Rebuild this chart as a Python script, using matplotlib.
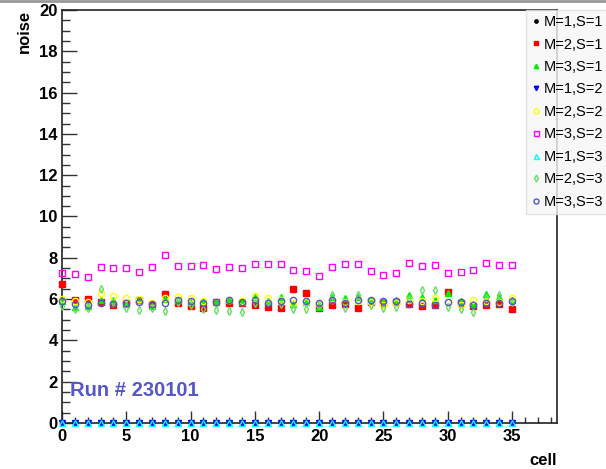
import numpy as np
import matplotlib.pyplot as plt
from matplotlib.ticker import MultipleLocator
from matplotlib.lines import Line2D

plt.rcParams["font.family"] = ["Liberation Sans", "DejaVu Sans"]
plt.rcParams["font.weight"] = "bold"

cells = np.arange(36)

# noise per cell, one array per (M, S) combination
noise_m1_s1 = np.zeros(36)
noise_m1_s2 = np.zeros(36)
noise_m1_s3 = np.zeros(36)

noise_m2_s1 = [6.72, 5.96, 5.99, 5.87, 5.71, 5.80, 5.96, 5.71, 6.23, 5.80, 5.68, 5.58,
               5.87, 5.80, 5.80, 5.71, 5.63, 5.58, 6.47, 6.31, 5.55, 5.71, 5.75, 5.58,
               5.87, 5.80, 5.87, 5.75, 5.68, 5.71, 6.36, 5.80, 5.68, 5.71, 5.75, 5.52]
noise_m3_s1 = [5.90, 5.60, 5.65, 5.95, 5.95, 5.75, 5.95, 5.65, 6.00, 5.95, 5.85, 5.93,
               5.85, 5.95, 5.85, 6.10, 5.90, 6.10, 5.75, 5.85, 5.60, 6.10, 6.05, 6.10,
               5.95, 5.90, 5.95, 6.20, 6.10, 5.95, 6.30, 5.90, 5.75, 6.25, 6.10, 5.95]
noise_m2_s2 = [6.00, 5.90, 5.85, 6.30, 6.15, 6.05, 6.00, 5.80, 6.05, 6.12, 6.07, 5.90,
               5.85, 5.95, 5.90, 6.15, 6.07, 5.95, 5.80, 5.85, 5.75, 5.95, 5.85, 5.90,
               5.85, 5.70, 5.80, 5.95, 5.90, 6.05, 5.85, 5.70, 5.95, 5.90, 5.85, 6.07]
noise_m3_s2 = [7.28, 7.20, 7.09, 7.55, 7.53, 7.53, 7.33, 7.55, 8.15, 7.62, 7.62, 7.65,
               7.47, 7.55, 7.50, 7.72, 7.72, 7.70, 7.41, 7.34, 7.12, 7.57, 7.70, 7.70,
               7.38, 7.17, 7.25, 7.73, 7.62, 7.67, 7.28, 7.30, 7.42, 7.73, 7.63, 7.65]
noise_m2_s3 = [5.65, 5.50, 5.55, 6.50, 5.85, 5.55, 5.45, 5.55, 5.42, 5.85, 5.70, 5.50,
               5.45, 5.42, 5.36, 5.80, 5.85, 5.75, 5.50, 5.50, 5.70, 6.20, 5.55, 6.20,
               5.70, 5.55, 5.60, 6.00, 6.45, 6.45, 5.60, 5.50, 5.38, 6.05, 6.20, 5.85]
noise_m3_s3 = [5.90, 5.75, 5.70, 5.80, 5.75, 5.80, 5.85, 5.75, 5.82, 5.96, 5.90, 5.80,
               5.86, 5.96, 5.85, 5.96, 5.80, 5.90, 5.94, 5.90, 5.80, 5.96, 5.80, 5.96,
               5.96, 5.92, 5.92, 5.75, 5.80, 5.71, 5.88, 5.85, 5.71, 5.80, 5.83, 5.90]

labels = ["M=1,S=1", "M=2,S=1", "M=3,S=1",
          "M=1,S=2", "M=2,S=2", "M=3,S=2",
          "M=1,S=3", "M=2,S=3", "M=3,S=3"]

# (marker, size, face, edge)
styles = [
    ("o", 3.0, "black", "black"),
    ("s", 4.0, "#ff0000", "#ff0000"),
    ("^", 4.0, "#00ee00", "#00ee00"),
    ("v", 4.0, "#0000ff", "#0000ff"),
    ("o", 4.5, "none", "#ffff00"),
    ("s", 4.5, "none", "#ff00ff"),
    ("^", 4.5, "none", "#00ffff"),
    ("d", 4.2, "none", "#66dd66"),
    ("o", 4.5, "none", "#5555cc"),
]

series = [noise_m1_s1, noise_m2_s1, noise_m3_s1,
          noise_m1_s2, noise_m2_s2, noise_m3_s2,
          noise_m1_s3, noise_m2_s3, noise_m3_s3]

fig = plt.figure(figsize=(6.06, 4.69), dpi=100)
ax = fig.add_axes([62 / 606, 1 - 423 / 469, 495 / 606, 413 / 469])

handles = []
for y, lab, (mk, ms, fc, ec) in zip(series, labels, styles):
    h, = ax.plot(cells, y, linestyle="none", marker=mk, markersize=ms,
                 markerfacecolor=fc, markeredgecolor=ec, markeredgewidth=1.0,
                 clip_on=False, zorder=3, label=lab)
    handles.append(h)

ax.set_xlim(0, 38.5)
ax.set_ylim(0, 20)
ax.xaxis.set_major_locator(MultipleLocator(5))
ax.xaxis.set_minor_locator(MultipleLocator(1))
ax.yaxis.set_major_locator(MultipleLocator(2))
ax.yaxis.set_minor_locator(MultipleLocator(0.5))
ax.tick_params(which="both", direction="in", top=False, right=False,
               labelsize=12, width=1.0, color="#333333")
ax.tick_params(axis="x", which="major", length=9, pad=4)
ax.tick_params(axis="x", which="minor", length=4.5)
ax.tick_params(axis="y", which="major", length=11, pad=3)
ax.tick_params(axis="y", which="minor", length=5.5)
for lbl in ax.get_xticklabels() + ax.get_yticklabels():
    lbl.set_fontweight("bold")
for sp in ax.spines.values():
    sp.set_linewidth(1.2)
    sp.set_color("#222222")

fig.text(24 / 606, 1 - 10 / 469, "noise", rotation=90, ha="center", va="top",
         fontsize=12, fontweight="bold")
fig.text(557 / 606, 1 - 460 / 469, "cell", ha="right", va="center",
         fontsize=12, fontweight="bold")
ax.text(0.6, 1.55, "Run # 230101", color="#5555cc", fontsize=14.5,
        fontweight="bold", va="center", ha="left")

# thin grey border line along the top of the canvas
fig.add_artist(Line2D([0, 1], [0.997, 0.997], transform=fig.transFigure,
                      color="#999999", linewidth=2))

leg = fig.legend(handles=handles, loc="upper left",
                 bbox_to_anchor=(526 / 606, 1 - 10 / 469),
                 fontsize=10.5, frameon=True, fancybox=False,
                 borderaxespad=0, borderpad=0.35, labelspacing=0.58,
                 handlelength=0.7, handletextpad=0.2, markerscale=0.8)
leg.get_frame().set_facecolor("#f7f7f7")
leg.get_frame().set_edgecolor("#dddddd")
for t in leg.get_texts():
    t.set_fontweight("normal")

fig.savefig("out.png", dpi=100)
